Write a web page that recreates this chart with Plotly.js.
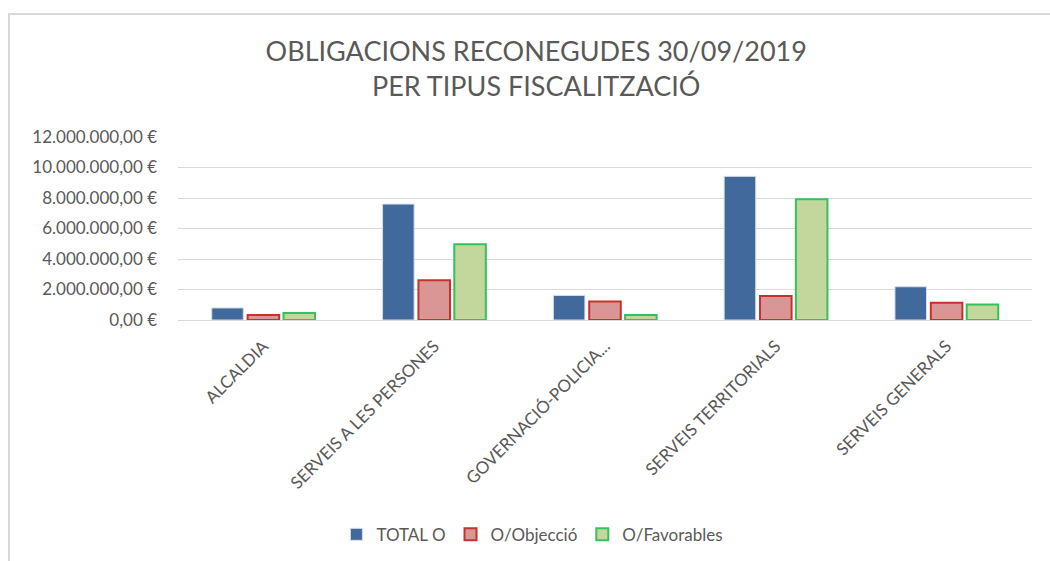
<!DOCTYPE html>
<html>
<head>
<meta charset="utf-8">
<script src="https://cdn.plot.ly/plotly-3.0.1.min.js"></script>
<style>
  html, body { margin: 0; padding: 0; background: #fff; overflow: hidden; }
  #chart { position: absolute; left: 8px; top: 13px; width: 1042px; height: 548px;
           border-left: 2px solid #d9d9d9; border-top: 2px solid #d9d9d9; box-sizing: border-box; }
</style>
</head>
<body>
<div id="chart"></div>
<script>
const categories = ["ALCALDIA", "SERVEIS A LES PERSONES", "GOVERNACIÓ-POLICIA...", "SERVEIS TERRITORIALS", "SERVEIS GENERALS"];
const totalO = [790000, 7600000, 1610000, 9420000, 2180000];
const objeccio = [330000, 2600000, 1220000, 1570000, 1130000];
const favorables = [460000, 4960000, 330000, 7910000, 1020000];
const tickVals = [0, 2000000, 4000000, 6000000, 8000000, 10000000, 12000000];
const tickText = ["0,00 €", "2.000.000,00 €", "4.000.000,00 €", "6.000.000,00 €", "8.000.000,00 €", "10.000.000,00 €", "12.000.000,00 €"];

const traces = [
  { type: 'bar', name: 'TOTAL O', x: categories, y: totalO,
    marker: { color: '#41699b', line: { color: '#d6dce8', width: 1 } } },
  { type: 'bar', name: 'O/Objecció', x: categories, y: objeccio,
    marker: { color: '#d99694', line: { color: '#c9302c', width: 2 } } },
  { type: 'bar', name: 'O/Favorables', x: categories, y: favorables,
    marker: { color: '#c3d69b', line: { color: '#33c15b', width: 2 } } }
];

const layout = {
  width: 1040, height: 546,
  paper_bgcolor: '#ffffff', plot_bgcolor: '#ffffff',
  margin: { l: 168, r: 18, t: 122, b: 241, pad: 0, autoexpand: false },
  font: { family: 'Lato, "Open Sans", sans-serif', color: '#595959', size: 16 },
  title: {
    text: 'OBLIGACIONS RECONEGUDES 30/09/2019<br>PER TIPUS FISCALITZACIÓ',
    font: { family: 'Lato, "Open Sans", sans-serif', size: 27, color: '#595959' },
    x: 0.506, xanchor: 'center', y: 0.916, yanchor: 'middle', yref: 'container'
  },
  barmode: 'group', bargap: 0.37, bargroupgap: 0.12,
  xaxis: {
    type: 'category', tickangle: -45, showline: false, ticks: '',
    ticklabelstandoff: 12,
    tickfont: { size: 17, color: '#595959' }, automargin: false
  },
  yaxis: {
    range: [0, 12000000], tickvals: tickVals, ticktext: tickText,
    showgrid: true, gridcolor: '#d9d9d9', gridwidth: 1,
    zeroline: true, zerolinecolor: '#d9d9d9', zerolinewidth: 1,
    showline: false, ticks: '', ticklen: 0, ticklabelstandoff: 20,
    tickfont: { size: 17, color: '#595959' }, automargin: false
  },
  showlegend: true,
  legend: {
    orientation: 'h', x: 0.415, xanchor: 'center',
    y: 0.048, yanchor: 'middle', yref: 'container',
    itemwidth: 30,
    font: { size: 17, color: '#595959' }, traceorder: 'normal'
  }
};

Plotly.newPlot('chart', traces, layout, { displayModeBar: false, staticPlot: true });
</script>
</body>
</html>
